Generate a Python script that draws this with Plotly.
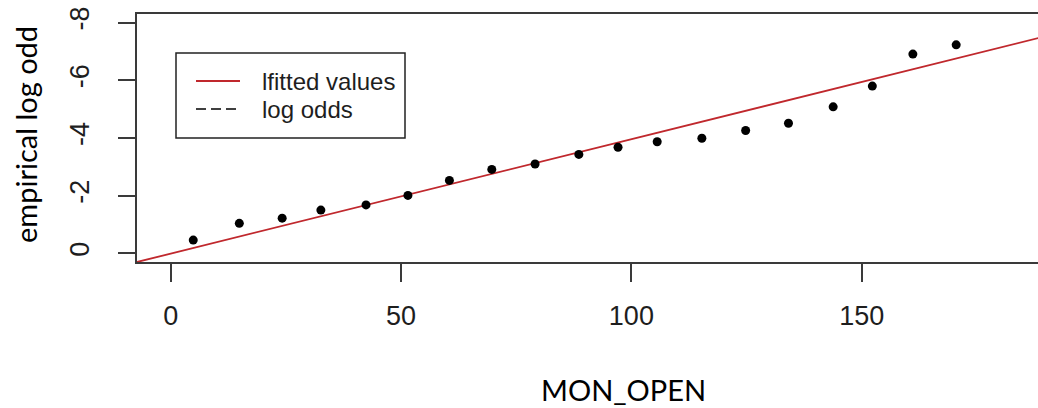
import plotly.graph_objects as go
import numpy as np

# ---- data ----
mon_open = [4.9, 14.9, 24.2, 32.6, 42.4, 51.5, 60.5, 69.7, 79.1, 88.6,
            97.1, 105.6, 115.3, 124.8, 134.1, 143.8, 152.3, 161.1, 170.5]
log_odds = [-0.46, -1.04, -1.22, -1.50, -1.68, -2.01, -2.53, -2.91, -3.10, -3.43,
            -3.68, -3.87, -3.99, -4.26, -4.51, -5.08, -5.80, -6.91, -7.23]
fit_intercept = 0.01
fit_slope = -0.0397
fit_x = [-10, 200]
x_ticks = [0, 50, 100, 150]
y_ticks = [0, -2, -4, -6, -8]

fit_y = [fit_intercept + fit_slope * v for v in fit_x]

W, H = 1038, 408
L, R, T, B = 137, 0, 14, 146
PW, PH = W - L - R, H - T - B

def px(xp):
    return (xp - L) / PW

def py(yp):
    return (H - B - yp) / PH

fig = go.Figure()
fig.add_trace(go.Scatter(x=fit_x, y=fit_y, mode="lines",
                         line=dict(color="#c0282d", width=1.8),
                         showlegend=False, hoverinfo="skip"))
fig.add_trace(go.Scatter(x=mon_open, y=log_odds, mode="markers",
                         marker=dict(color="black", size=9),
                         showlegend=False))

tick_font = dict(family="Liberation Sans, Arial, sans-serif", size=27, color="#1e1e1e")
axis_col = "#3a3a3a"

fig.update_xaxes(range=[-7.31, 188.26], tickvals=x_ticks,
                 ticktext=[str(v) for v in x_ticks],
                 showgrid=False, zeroline=False,
                 showline=True, mirror=True, linecolor=axis_col, linewidth=1.6,
                 ticks="outside", ticklen=18, tickwidth=1.6, tickcolor=axis_col,
                 tickfont=tick_font, ticklabelstandoff=11)
fig.update_yaxes(range=[0.30, -8.30], tickvals=y_ticks,
                 ticktext=[str(v) for v in y_ticks],
                 showgrid=False, zeroline=False,
                 showline=True, mirror=False, linecolor=axis_col, linewidth=1.6,
                 ticks="outside", ticklen=17, tickwidth=1.6, tickcolor=axis_col,
                 tickfont=tick_font, tickangle=-90, ticklabelstandoff=18)

# legend drawn manually
shapes = [
    dict(type="rect", xref="paper", yref="paper",
         x0=px(176), x1=px(405), y0=py(138), y1=py(53),
         line=dict(color="#222", width=1.5), fillcolor="white"),
    dict(type="line", xref="paper", yref="paper",
         x0=px(196), x1=px(240), y0=py(81), y1=py(81),
         line=dict(color="#c0282d", width=1.8)),
    dict(type="line", xref="paper", yref="paper",
         x0=px(196), x1=px(236), y0=py(109), y1=py(109),
         line=dict(color="black", width=1.6, dash="10px,5px")),
]
leg_font = dict(family="Liberation Sans, Arial, sans-serif", size=24, color="#1e1e1e")
annotations = [
    dict(text="lfitted values", xref="paper", yref="paper", x=px(260), y=py(81),
         xanchor="left", yanchor="middle", showarrow=False, font=leg_font),
    dict(text="log odds", xref="paper", yref="paper", x=px(260), y=py(109),
         xanchor="left", yanchor="middle", showarrow=False, font=leg_font),
    dict(text="MON_OPEN", xref="paper", yref="paper", x=px(623), y=py(389),
         xanchor="center", yanchor="middle", showarrow=False,
         font=dict(family="Lato, Open Sans, sans-serif", size=29, color="black")),
    dict(text="empirical log odd", xref="paper", yref="paper", x=px(25), y=py(135),
         xanchor="center", yanchor="middle", showarrow=False, textangle=-90,
         font=dict(family="Lato, Open Sans, sans-serif", size=29, color="black")),
]

fig.update_layout(width=W, height=H,
                  margin=dict(l=L, r=R, t=T, b=B, pad=0),
                  paper_bgcolor="white", plot_bgcolor="white",
                  shapes=shapes, annotations=annotations, showlegend=False)

fig.write_html("out.html")
